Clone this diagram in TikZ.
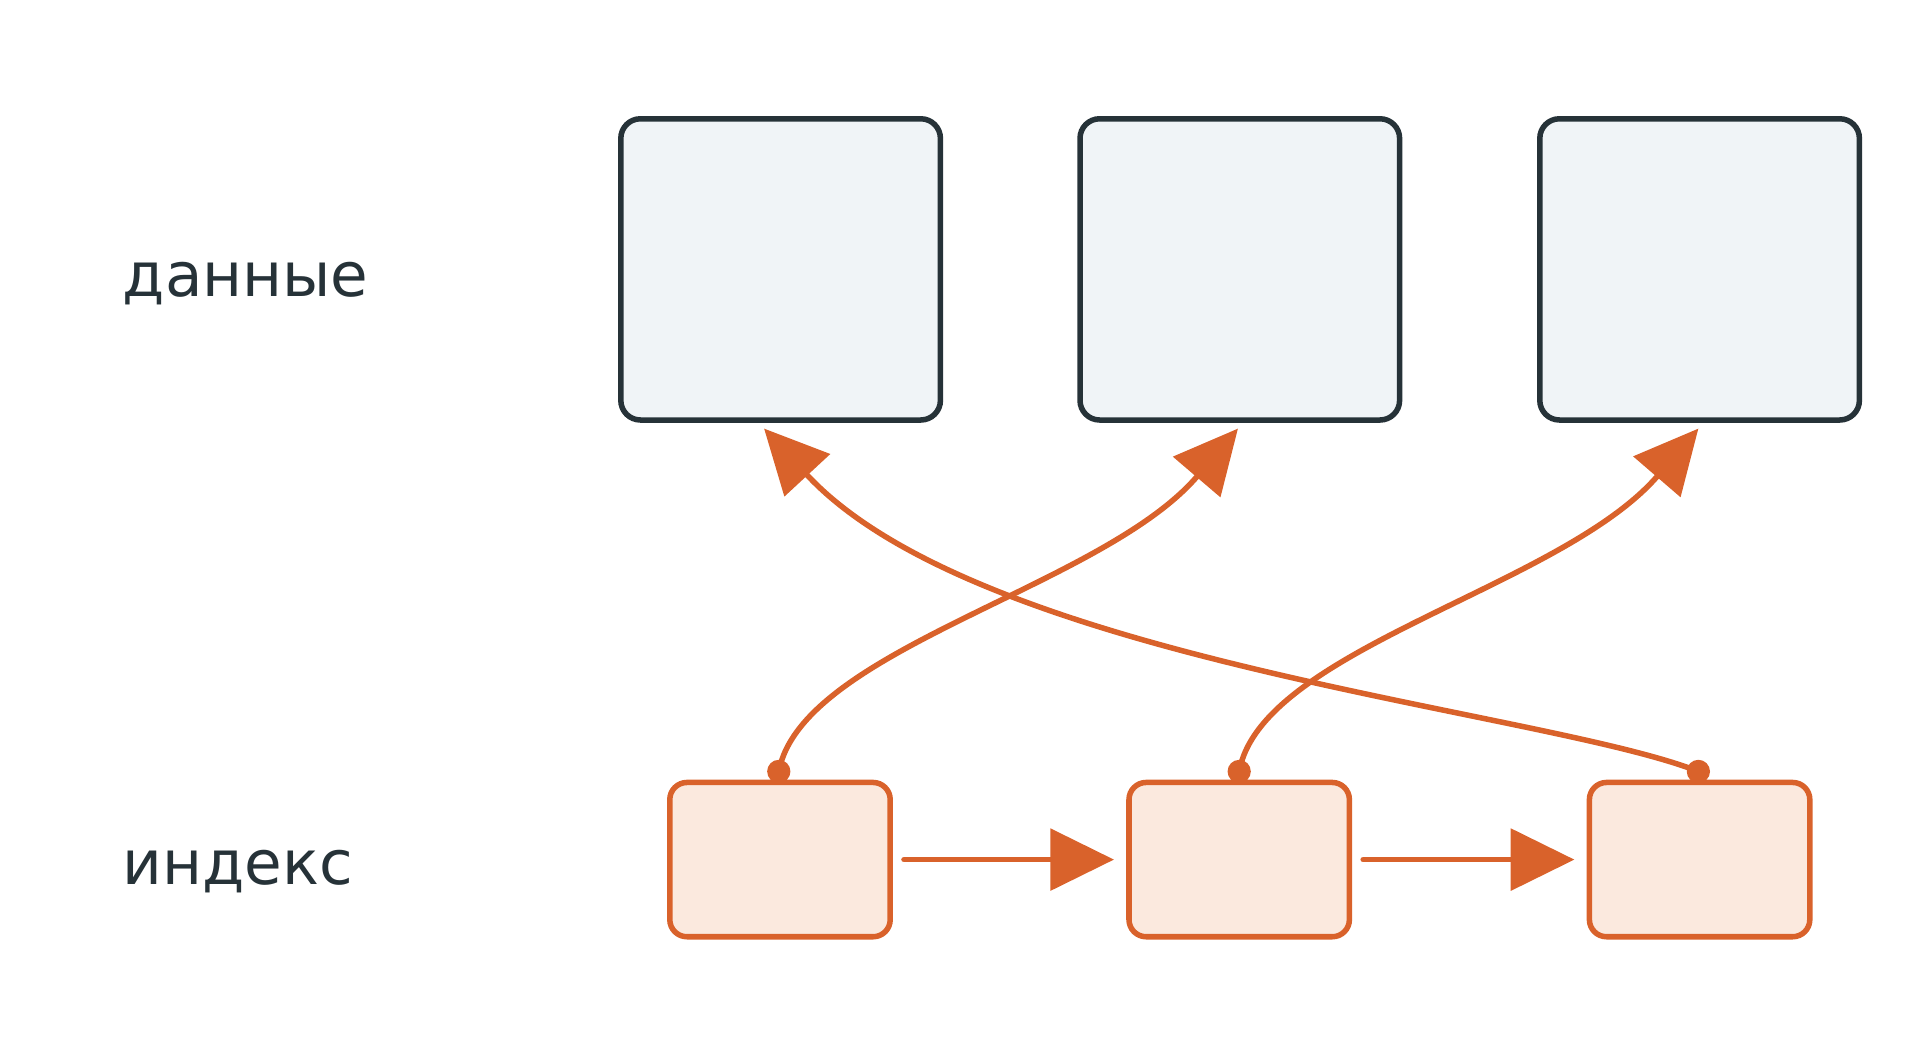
\documentclass[tikz,border=0pt]{standalone}
\usepackage{fontspec}
\setmainfont{DejaVu Sans}
\usetikzlibrary{arrows.meta}
\definecolor{ink}{HTML}{263238}
\definecolor{dfill}{HTML}{F0F4F7}
\definecolor{org}{HTML}{D9622B}
\definecolor{ofill}{HTML}{FBE9DE}
\begin{document}
\begin{tikzpicture}[x=1pt,y=-1pt,
 data/.style={draw=ink,fill=dfill,line width=4.5pt,rounded corners=16pt,minimum width=261pt,minimum height=246pt,inner sep=0pt},
 idx/.style={draw=org,fill=ofill,line width=4.5pt,rounded corners=14pt,minimum width=180pt,minimum height=126pt,inner sep=0pt},
 lbl/.style={text=ink,font=\fontsize{50}{60}\selectfont,anchor=base west,inner sep=0pt},
 con/.style={draw=org,line width=4.5pt,line cap=round,-{Triangle[length=52pt,width=50pt]}},
 dot/.style={fill=org,circle,inner sep=0pt,minimum size=19pt}]
\useasboundingbox (0,0) rectangle (1568,849);
\node[data] (d1) at (637.5,220) {};
\node[data] (d2) at (1012.5,220) {};
\node[data] (d3) at (1388,220) {};
\node[idx] (i1) at (637,702) {};
\node[idx] (i2) at (1012,702) {};
\node[idx] (i3) at (1388,702) {};
\node[lbl] (t1) at (100,242) {данные};
\node[lbl] (t2) at (100,722) {индекс};
\node[dot] (p1) at (636,630) {};
\node[dot] (p2) at (1012,630) {};
\node[dot] (p3) at (1387,630) {};
\coordinate (a1) at (624,350);
\coordinate (a2) at (1011,350);
\coordinate (a3) at (1387,350);
\draw[con] (i1.east)++(9,0) coordinate (h1) -- ([xshift=-10pt]i2.west);
\draw[con] (i2.east)++(9,0) coordinate (h2) -- ([xshift=-10pt]i3.west);
\draw[con] (p1.center) .. controls (655,530) and (900,480) .. (a2);
\draw[con] (p2.center) .. controls (1030,530) and (1275,480) .. (a3);
\draw[con] (p3.center) .. controls (1260,580) and (800,540) .. (a1);
\end{tikzpicture}
\end{document}
